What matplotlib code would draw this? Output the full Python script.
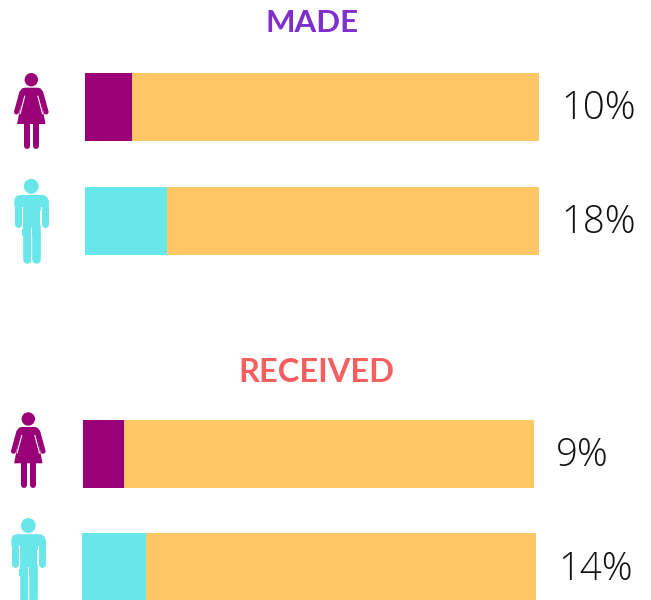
import matplotlib
matplotlib.use("Agg")
import matplotlib.pyplot as plt
from matplotlib.patches import Circle, Polygon, Rectangle, FancyBboxPatch

# data
groups = ["woman", "man", "woman", "man"]
shares = [10.35, 18, 9, 14]
labels = ["10%", "18%", "9%", "14%"]
titles = ["MADE", "RECEIVED"]

# layout, in pixels of the 651x600 image
bar_left = [85, 85, 83, 82]
bar_right = [539, 539, 534, 536]
bar_top = [73, 187, 420, 533]
bar_h = 68
icon_x = [31.3, 31.3, 28.3, 28.3]
icon_y = [79.7, 186.3, 419, 525.5]
label_x = [561, 561, 556, 558]
label_y = [109, 223, 456, 570]
title_x = [312.5, 316]
title_y = [23.5, 372]
title_sizes = [22.5, 23.5]
title_colors = ["#7F2FCC", "#F65F5F"]

PURPLE = "#990077"
CYAN = "#69E6EA"
ORANGE = "#FFC766"
PX = 0.72  # points per pixel at dpi 100

fig = plt.figure(figsize=(6.51, 6.0), dpi=100)
ax = fig.add_axes([0, 0, 1, 1])
ax.set_xlim(0, 651)
ax.set_ylim(600, 0)
ax.axis("off")


def limb(xs, ys, width, color):
    ax.plot(xs, ys, color=color, lw=width * PX, solid_capstyle="round")


def draw_woman(cx, cy, color):
    ax.add_patch(Circle((cx, cy), 6.7, color=color, lw=0))
    # shoulders
    ax.add_patch(FancyBboxPatch((cx - 11, cy + 8), 22, 14, boxstyle="round,pad=0,rounding_size=5",
                                color=color, lw=0))
    # dress
    dress = [(-8, 12), (8, 12), (14.2, 44.3), (-14.2, 44.3)]
    ax.add_patch(Polygon([(cx + a, cy + b) for a, b in dress], color=color, lw=0))
    for s in [-1, 1]:
        limb([cx + s * 9.5, cx + s * 14.8], [cy + 13, cy + 32.3], 5, color)
        # gap between arm and dress
        ax.plot([cx + s * 6.6, cx + s * 11.2], [cy + 16.5, cy + 34], color="white", lw=0.8)
        limb([cx + s * 4.3, cx + s * 4.3], [cy + 44, cy + 66.3], 6, color)


def draw_man(cx, cy, color):
    ax.add_patch(Circle((cx, cy), 7.4, color=color, lw=0))
    # shoulders
    ax.add_patch(FancyBboxPatch((cx - 17, cy + 8.7), 34, 16, boxstyle="round,pad=0,rounding_size=6.5",
                                color=color, lw=0))
    ax.add_patch(Rectangle((cx - 9.1, cy + 12), 18.2, 38, color=color, lw=0))
    for s in [-1, 1]:
        limb([cx + s * 13.5, cx + s * 13.5], [cy + 15, cy + 38], 7, color)
        # gap under the arm
        ax.plot([cx + s * 9.7, cx + s * 9.7], [cy + 20.4, cy + 42], color="white", lw=0.8)
        limb([cx + s * 4.8, cx + s * 4.8], [cy + 40, cy + 72.2], 8.6, color)
    ax.plot([cx, cx], [cy + 41.4, cy + 77], color="white", lw=0.7)


for i in range(4):
    width = bar_right[i] - bar_left[i]
    color = PURPLE if groups[i] == "woman" else CYAN
    # stacked bar: share in front, the rest behind
    part = width * shares[i] / 100
    ax.barh(bar_top[i] + bar_h / 2, part, height=bar_h, left=bar_left[i], color=color, lw=0)
    ax.barh(bar_top[i] + bar_h / 2, width - part, height=bar_h, left=bar_left[i] + part,
            color=ORANGE, lw=0)
    if groups[i] == "woman":
        draw_woman(icon_x[i], icon_y[i], color)
    else:
        draw_man(icon_x[i], icon_y[i], color)
    ax.text(label_x[i], label_y[i], labels[i], fontsize=27.5, family="Open Sans", weight="light",
            color="#111111", ha="left", va="center")

for i in range(2):
    ax.text(title_x[i], title_y[i], titles[i], fontsize=title_sizes[i], family="Lato", weight="bold",
            color=title_colors[i], ha="center", va="center")

fig.savefig("out.png", dpi=100)
